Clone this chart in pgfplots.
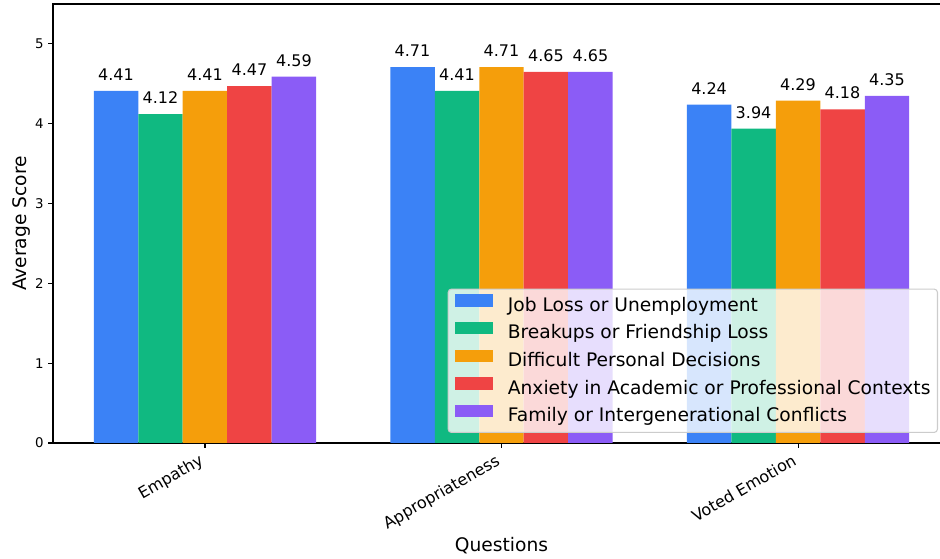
\documentclass[border=0pt]{standalone}
\usepackage{fontspec}
\setmainfont{DejaVu Sans}
\usepackage{pgfplots}
\pgfplotsset{compat=1.18}

\definecolor{cJob}{HTML}{3B82F6}
\definecolor{cBreak}{HTML}{10B981}
\definecolor{cDecide}{HTML}{F59E0B}
\definecolor{cAnx}{HTML}{EF4444}
\definecolor{cFam}{HTML}{8B5CF6}

\begin{document}
\begin{tikzpicture}
\begin{axis}[
  scale only axis,
  width=672.75pt, height=329.25pt,
  ybar=0pt, bar width=0.15,
  xmin=-0.5125, xmax=2.5125,
  ymin=0, ymax=5.5,
  xtick={0,1,2},
  xticklabels={Empathy, Appropriateness, Voted Emotion},
  ytick={0,1,2,3,4,5},
  tick pos=left,
  tick align=outside,
  major tick length=3.6pt,
  tick style={black, line width=0.8pt},
  axis line style={line width=0.8pt},
  /pgf/number format/assume math mode=true,
  yticklabel style={font=\fontsize{10}{12}\selectfont},
  xticklabel style={xshift=-6pt, yshift=-2.25pt, font=\fontsize{12}{14}\selectfont, rotate=30, anchor=north east,
    inner sep=0pt, text height=11.1pt, text depth=2.8pt},
  every axis y label/.style={at={([xshift=-16.5pt]axis description cs:0,0.5)},
    rotate=90, anchor=south, inner sep=0pt},
  every axis x label/.style={at={([yshift=-81.5pt]axis description cs:0.5,0)},
    anchor=base, inner sep=0pt},
  label style={font=\fontsize{14}{16}\selectfont},
  ylabel={Average Score},
  xlabel={Questions},
  nodes near coords={\pgfmathprintnumber[fixed, fixed zerofill, precision=2, assume math mode=true]{\pgfplotspointmeta}},
  nodes near coords style={font=\fontsize{12}{14}\selectfont, text=black, anchor=south, inner sep=0pt, yshift=7.5pt},
  legend cell align=left,
  legend image code/.code={\fill[#1, sharp corners, fill opacity=1] (0pt,0pt) rectangle (28.5pt,9.3pt);},
  legend style={at={(1,0)}, anchor=south east, xshift=-9pt, yshift=7.5pt,
    fill=white, fill opacity=0.8, text opacity=1, draw=black!20, draw opacity=1,
    rounded corners=2.5pt, line width=0.8pt,
    font=\fontsize{14}{16}\selectfont,
    inner xsep=5.25pt, inner ysep=4pt, row sep=4.2pt, column sep=11pt,
    nodes={inner sep=0pt, text height=10.5pt, text depth=4pt}},
]
\addplot[fill=cJob, draw=none] coordinates {(0,4.41) (1,4.71) (2,4.24)};
\addplot[fill=cBreak, draw=none] coordinates {(0,4.12) (1,4.41) (2,3.94)};
\addplot[fill=cDecide, draw=none] coordinates {(0,4.41) (1,4.71) (2,4.29)};
\addplot[fill=cAnx, draw=none] coordinates {(0,4.47) (1,4.65) (2,4.18)};
\addplot[fill=cFam, draw=none] coordinates {(0,4.59) (1,4.65) (2,4.35)};
\legend{Job Loss or Unemployment, Breakups or Friendship Loss, Difficult Personal Decisions, Anxiety in Academic or Professional Contexts, Family or Intergenerational Conflicts}
\end{axis}
\pgfresetboundingbox
\path[use as bounding box] ([shift={(-39.75pt,-87pt)}]current axis.south west) rectangle ([shift={(-7.5pt,3pt)}]current axis.north east);
\end{tikzpicture}
\end{document}
